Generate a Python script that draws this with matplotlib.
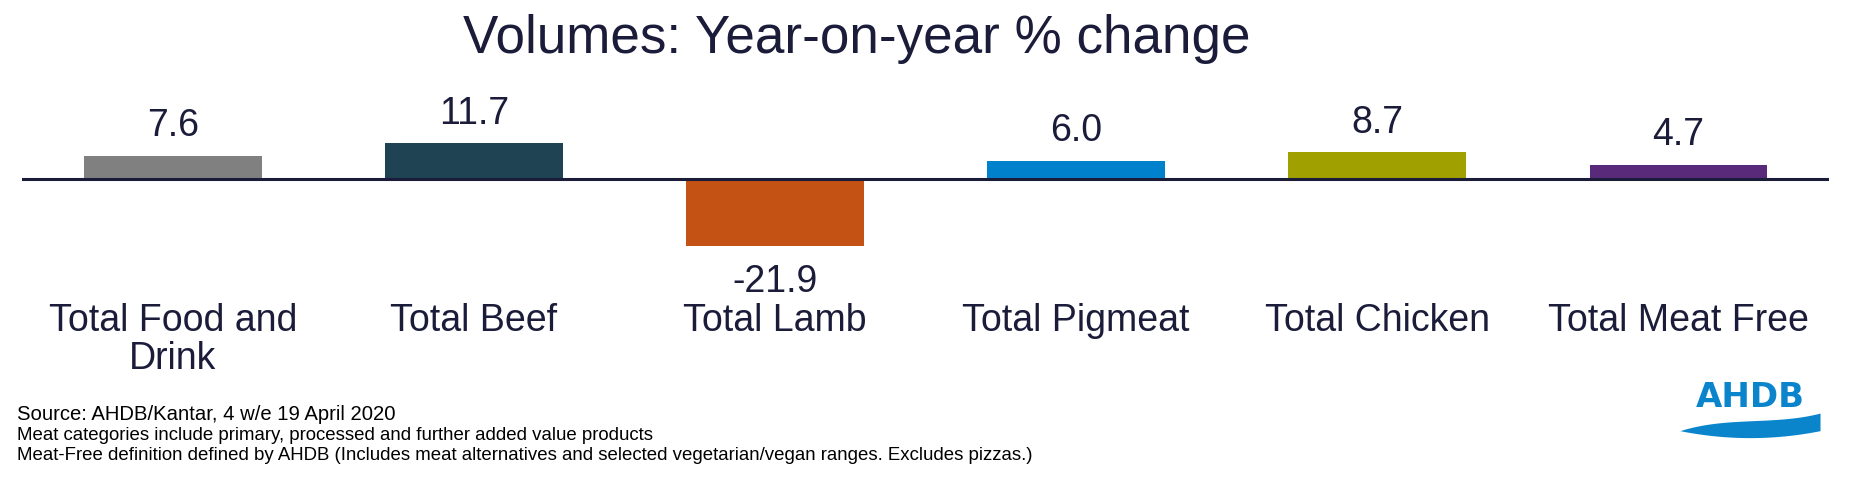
import matplotlib.pyplot as plt
import matplotlib.transforms as mtransforms
import numpy as np

# data
categories = ['Total Food and\nDrink', 'Total Beef', 'Total Lamb',
              'Total Pigmeat', 'Total Chicken', 'Total Meat Free']
changes = [7.6, 11.7, -21.9, 6.0, 8.7, 4.7]
bar_colors = ['#808080', '#1F4352', '#C35214', '#0081CC', '#A0A000', '#5A2A7A']
notes = ['Source: AHDB/Kantar, 4 w/e 19 April 2020',
         'Meat categories include primary, processed and further added value products',
         'Meat-Free definition defined by AHDB (Includes meat alternatives and selected '
         'vegetarian/vegan ranges. Excludes pizzas.)']

navy = '#1B1C3A'
plt.rcParams['font.family'] = ['Liberation Sans', 'DejaVu Sans']

fig = plt.figure(figsize=(18.53, 4.81), dpi=100)
ax = fig.add_axes([0.012, 0.4345, 0.975, 0.319])

x = np.arange(len(categories))
bars = ax.bar(x, changes, width=0.59, color=bar_colors, zorder=2)
ax.axhline(0, color=navy, lw=2.2, zorder=3)
ax.set_xlim(-0.5, len(categories) - 0.5)
ax.set_ylim(-30, 20)
ax.axis('off')

# value labels
for b, v in zip(bars, changes):
    if v >= 0:
        ax.annotate('%.1f' % v, (b.get_x() + b.get_width() / 2, v),
                    xytext=(0, 9), textcoords='offset points',
                    ha='center', va='bottom', fontsize=27, color=navy)
    else:
        ax.annotate('%.1f' % v, (b.get_x() + b.get_width() / 2, v),
                    xytext=(0, -12), textcoords='offset points',
                    ha='center', va='top', fontsize=27, color=navy)

# category labels
trans = mtransforms.blended_transform_factory(ax.transData, fig.transFigure)
for i, c in enumerate(categories):
    ax.text(i, 0.370, c, transform=trans, ha='center', va='top',
            fontsize=27, color=navy, linespacing=1.08)

fig.text(0.4625, 0.918, 'Volumes: Year-on-year % change', ha='center',
         va='center', fontsize=38.2, color=navy)

# footnotes
fig.text(0.009, 0.139, notes[0], ha='left', va='center', fontsize=14.6, color='black')
fig.text(0.009, 0.095, notes[1], ha='left', va='center', fontsize=13.4, color='black')
fig.text(0.009, 0.054, notes[2], ha='left', va='center', fontsize=13.4, color='black')

# AHDB logo
fig.text(0.9445, 0.154, 'AHDB', ha='center', va='baseline', fontsize=24.5,
         fontweight='bold', color='#0A85CC', family='DejaVu Sans')
lax = fig.add_axes([0.9066, 0.0852, 0.0756, 0.058])
t = np.linspace(0, 1, 200)
upper = 0.3 + 1.6 * t - 2.6 * t ** 2 + 1.63 * t ** 3
lower = 0.3 - 1.0 * t + 1.0 * t ** 2
lax.fill_between(t, lower, upper, color='#0A85CC', lw=0)
lax.set_xlim(0, 1)
lax.set_ylim(0, 1)
lax.axis('off')

fig.savefig('out.png', dpi=100)
